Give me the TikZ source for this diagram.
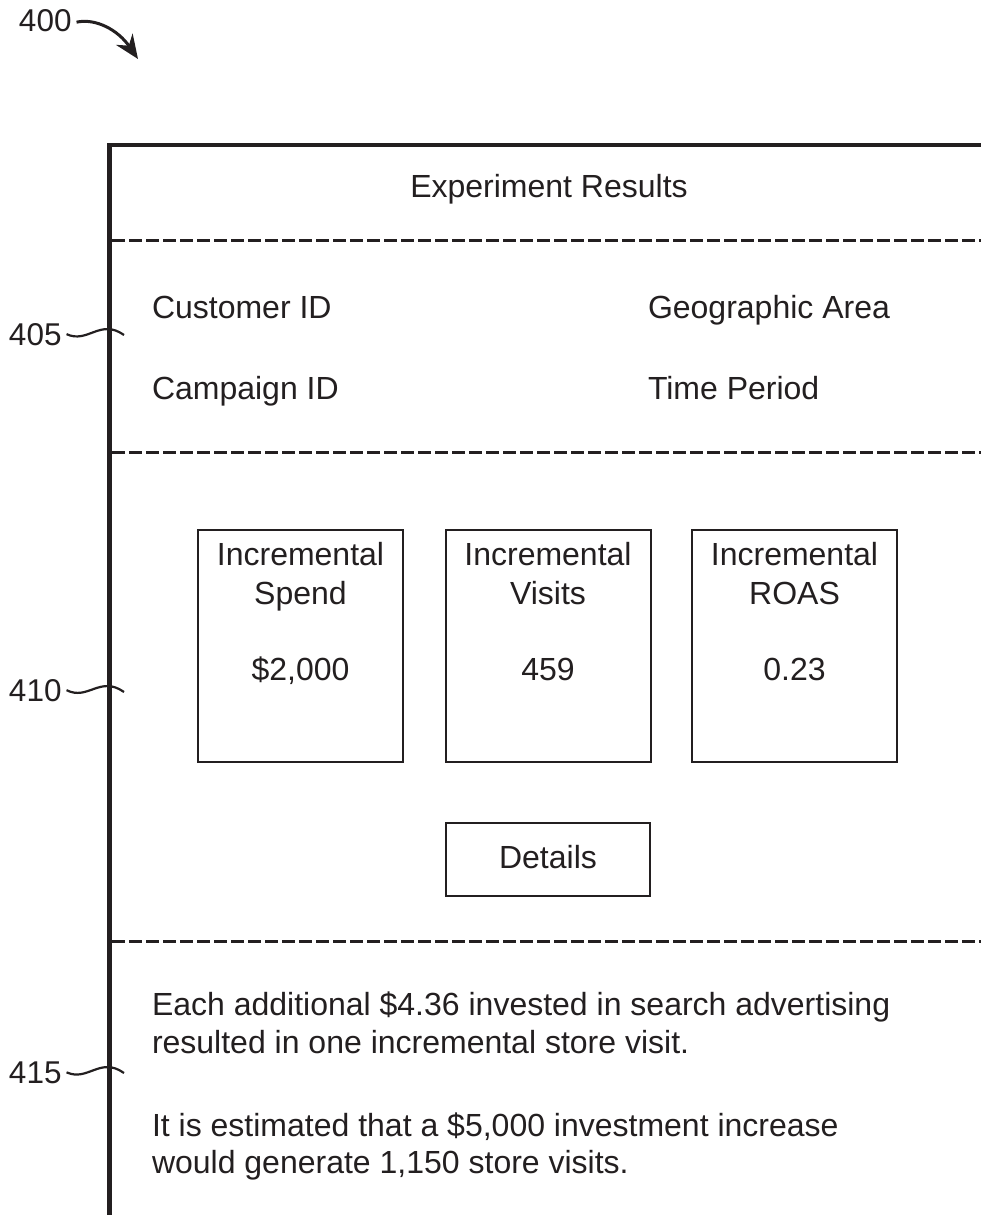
\documentclass[tikz,border=0pt]{standalone}
\usepackage{fontspec}
\setmainfont{Liberation Sans}
\usetikzlibrary{arrows.meta}
\definecolor{ink}{HTML}{231F20}
\begin{document}
\begin{tikzpicture}[x=1pt,y=-1pt,
  every node/.style={inner sep=0pt,outer sep=0pt,text=ink},
  txt/.style={font=\fontsize{32}{38}\selectfont},
  reflabel/.style={font=\fontsize{31.5}{36}\selectfont},
  frameline/.style={draw=ink,line width=4.5pt},
  sepline/.style={draw=ink,line width=3pt,dash pattern=on 13pt off 4pt},
  card/.style={draw=ink,line width=2pt,rectangle,minimum width=205pt,minimum height=232pt},
  btn/.style={draw=ink,line width=2pt,rectangle,minimum width=204pt,minimum height=73pt},
  squig/.style={draw=ink,line width=2.2pt},
  ptr/.style={draw=ink,line width=3pt,-{Stealth[length=24pt,width=20pt]}}]
\useasboundingbox (0,0) rectangle (981,1215);
\fill[white] (0,0) rectangle (981,1215);

% frame
\coordinate (ftop) at (109.5,145);
\coordinate (fright) at (981,145);
\coordinate (fbot) at (109.5,1215);
\draw[frameline] (fright) -- (ftop) -- (fbot);

% separators
\coordinate (s1a) at (112,240); \coordinate (s1b) at (981,240);
\coordinate (s2a) at (112,452); \coordinate (s2b) at (981,452);
\coordinate (s3a) at (112,941); \coordinate (s3b) at (981,941);
\draw[sepline] (s1a) -- (s1b);
\draw[sepline] (s2a) -- (s2b);
\draw[sepline] (s3a) -- (s3b);

% header
\node[txt,anchor=base] (title) at (549,197) {Experiment Results};

% info section
\node[txt,anchor=base west] (cust) at (152,318) {Customer ID};
\node[txt,anchor=base west] (geo) at (648,318) {Geographic Area};
\node[txt,anchor=base west] (camp) at (152,399) {Campaign ID};
\node[txt,anchor=base west] (time) at (648,399) {Time Period};

% cards
\node[card] (c1) at (300.5,646) {};
\node[card] (c2) at (548,646) {};
\node[card] (c3) at (794.5,646) {};
\foreach \c/\a/\b/\v in {c1/Incremental/Spend/\$2{,}000, c2/Incremental/Visits/459, c3/Incremental/ROAS/0.23}{
  \node[txt,anchor=base] (\c-l1) at ([yshift=-35pt]\c.north) {\a};
  \node[txt,anchor=base] (\c-l2) at ([yshift=-74pt]\c.north) {\b};
  \node[txt,anchor=base] (\c-v) at ([yshift=-150pt]\c.north) {\v};
}

% details button
\node[btn] (det) at (548,859.5) {};
\node[txt,anchor=base] (detl) at (548,868) {Details};

% bottom text
\node[txt,anchor=base west] (b1) at (152,1015) {Each additional \$4.36 invested in search advertising};
\node[txt,anchor=base west] (b2) at (152,1053) {resulted in one incremental store visit.};
\node[txt,anchor=base west] (b3) at (152,1136) {It is estimated that a \$5,000 investment increase};
\node[txt,anchor=base west] (b4) at (152,1173) {would generate 1,150 store visits.};

% reference labels
\node[reflabel,anchor=base west] (l400) at (19,32) {400};
\coordinate (a400) at (138,59);
\draw[ptr] ([xshift=5pt,yshift=-1pt]l400.east) .. controls (96,18) and (118,30) .. (a400);

\node[reflabel,anchor=base west] (l405) at (9,345) {405};
\coordinate (e405) at (124,335);
\draw[squig] ([xshift=5pt]l405.east) .. controls (88,344) and (100,318) .. (e405);

\node[reflabel,anchor=base west] (l410) at (9,701) {410};
\coordinate (e410) at (124,692);
\draw[squig] ([xshift=5pt]l410.east) .. controls (88,701) and (100,675) .. (e410);

\node[reflabel,anchor=base west] (l415) at (9,1083) {415};
\coordinate (e415) at (124,1073);
\draw[squig] ([xshift=5pt]l415.east) .. controls (88,1082) and (100,1056) .. (e415);
\end{tikzpicture}
\end{document}
